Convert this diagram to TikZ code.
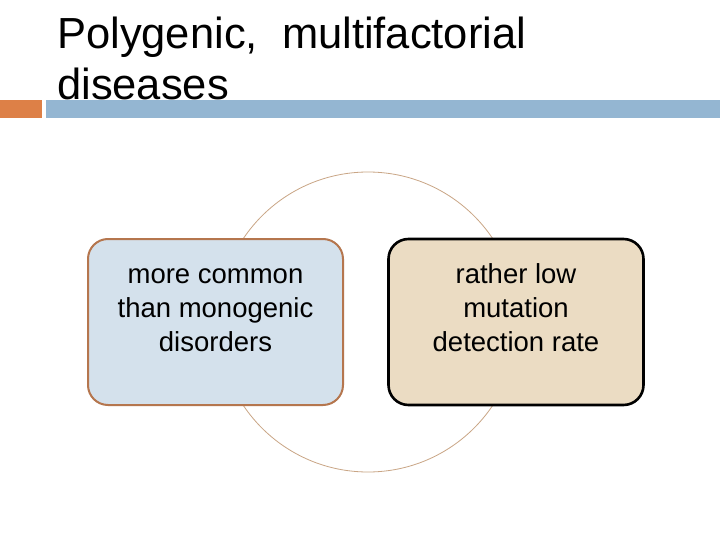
\documentclass[tikz,border=0pt]{standalone}
\usepackage{fontspec}
\setmainfont{Liberation Sans}
\definecolor{barorange}{HTML}{DD8047}
\definecolor{barblue}{HTML}{94B6D2}
\definecolor{ringc}{HTML}{C9A585}
\definecolor{lfill}{HTML}{D4E1EC}
\definecolor{lborder}{HTML}{B5764E}
\definecolor{rfill}{HTML}{EBDCC3}
\tikzset{
  titletext/.style={font=\fontsize{43.5}{51}\selectfont, inner sep=0pt, anchor=base west},
  bartile/.style={inner sep=0pt, draw=none},
  boxbase/.style={rounded corners=20pt, minimum width=255pt, minimum height=166pt, inner sep=0pt},
  leftbox/.style={boxbase, fill=lfill, draw=lborder, line width=2pt},
  rightbox/.style={boxbase, fill=rfill, draw=black, line width=2.6pt},
  boxtext/.style={font=\fontsize{27.5}{33.8}\selectfont, align=center, inner sep=0pt, anchor=base},
  ring/.style={draw=ringc, line width=0.8pt}
}
\begin{document}
\begin{tikzpicture}[x=1pt,y=-1pt]
\useasboundingbox[fill=white] (0,0) rectangle (720,540);
\node[titletext] (t1) at (57,49) {Polygenic,\ \ multifactorial};
\node[titletext] (t2) at (57,100) {diseases};
\fill[barorange] (0,100) rectangle (42,118);
\fill[barblue] (46,100) rectangle (720,118);
\node[ring, circle, minimum size=300pt, inner sep=0pt] (ring) at (368,322) {};
\node[leftbox] (lb) at (215.5,322) {};
\node[rightbox] (rb) at (516,322) {};
\node[boxtext] (lt) at (215.5,351) {more common\\than monogenic\\disorders};
\node[boxtext] (rt) at (516,351) {rather low\\mutation\\detection rate};
\end{tikzpicture}
\end{document}
